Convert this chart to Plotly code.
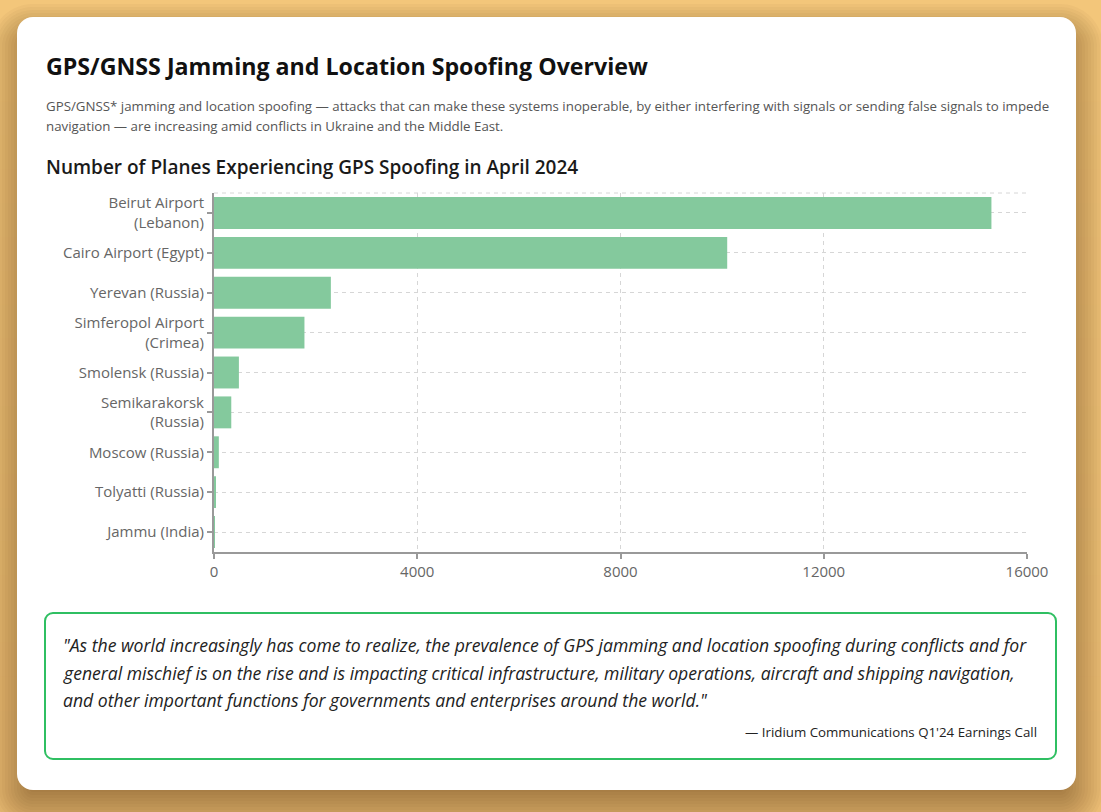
import plotly.graph_objects as go

# ---------------- data ----------------
categories = [
    "Beirut Airport<br>(Lebanon)",
    "Cairo Airport (Egypt)",
    "Yerevan (Russia)",
    "Simferopol Airport<br>(Crimea)",
    "Smolensk (Russia)",
    "Semikarakorsk<br>(Russia)",
    "Moscow (Russia)",
    "Tolyatti (Russia)",
    "Jammu (India)",
]
planes = [15300, 10100, 2300, 1780, 490, 340, 95, 35, 15]
x_ticks = [0, 4000, 8000, 12000, 16000]

title = "GPS/GNSS Jamming and Location Spoofing Overview"
subtitle_lines = [
    "GPS/GNSS* jamming and location spoofing \u2014 attacks that can make these systems inoperable, by either interfering with signals or sending false signals to impede",
    "navigation \u2014 are increasing amid conflicts in Ukraine and the Middle East.",
]
chart_title = "Number of Planes Experiencing GPS Spoofing in April 2024"
quote_lines = [
    "\"As the world increasingly has come to realize, the prevalence of GPS jamming and location spoofing during conflicts and for",
    "general mischief is on the rise and is impacting critical infrastructure, military operations, aircraft and shipping navigation,",
    "and other important functions for governments and enterprises around the world.\"",
]
attribution = "\u2014 Iridium Communications Q1'24 Earnings Call"

# ---------------- layout geometry (pixels) ----------------
FW, FH = 1101, 812
L, R, T, B = 214, 1027, 193, 552
PW, PH = R - L, B - T
FONT = "Segoe UI, Open Sans, Noto Sans, sans-serif"


def px(x):
    return (x - L) / PW


def py(y):
    return (B - y) / PH


def rounded_path(x0, y0, x1, y1, r):
    k = 0.5523 * r
    pts = [
        f"M{px(x0 + r)},{py(y0)}",
        f"L{px(x1 - r)},{py(y0)}",
        f"C{px(x1 - r + k)},{py(y0)} {px(x1)},{py(y0 + r - k)} {px(x1)},{py(y0 + r)}",
        f"L{px(x1)},{py(y1 - r)}",
        f"C{px(x1)},{py(y1 - r + k)} {px(x1 - r + k)},{py(y1)} {px(x1 - r)},{py(y1)}",
        f"L{px(x0 + r)},{py(y1)}",
        f"C{px(x0 + r - k)},{py(y1)} {px(x0)},{py(y1 - r + k)} {px(x0)},{py(y1 - r)}",
        f"L{px(x0)},{py(y0 + r)}",
        f"C{px(x0)},{py(y0 + r - k)} {px(x0 + r - k)},{py(y0)} {px(x0 + r)},{py(y0)}",
        "Z",
    ]
    return " ".join(pts)


shapes = []
# background gradient bands (top light -> bottom slightly darker)
nb = 24
for i in range(nb):
    t = i / (nb - 1)
    r_ = int(243 - 8 * t)
    g_ = int(198 - 10 * t)
    b_ = int(122 - 6 * t)
    shapes.append(dict(type="rect", xref="paper", yref="paper",
                       x0=px(0), x1=px(FW), y0=py(FH * i / nb), y1=py(FH * (i + 1) / nb + 1),
                       fillcolor=f"rgb({r_},{g_},{b_})", line=dict(width=0), layer="below"))

# card shadow (layered translucent rounded rects)
cx0, cy0, cx1, cy1 = 17, 17, 1076, 790
for s in range(27, -28, -3):
    shapes.append(dict(type="path", xref="paper", yref="paper",
                       path=rounded_path(cx0 - s, cy0 - s + 14, cx1 + s, cy1 + s + 14, max(16 + s, 4)),
                       fillcolor="rgba(70,45,10,0.03)", line=dict(width=0), layer="below"))
# card
shapes.append(dict(type="path", xref="paper", yref="paper",
                   path=rounded_path(cx0, cy0, cx1, cy1, 16),
                   fillcolor="white", line=dict(width=0), layer="below"))
# quote box
shapes.append(dict(type="path", xref="paper", yref="paper",
                   path=rounded_path(45, 613, 1056, 759, 8),
                   fillcolor="white", line=dict(width=2, color="#2fbf62"), layer="below"))
# top dashed border of the plot area
shapes.append(dict(type="line", xref="paper", yref="paper", x0=0, x1=1, y0=1, y1=1,
                   line=dict(width=1, color="#d6d6d6", dash="4px,4px"), layer="below"))

annotations = []
annotations.append(dict(text=f"<b>{title}</b>", x=px(44), y=py(66), xref="paper", yref="paper",
                        xanchor="left", yanchor="middle", showarrow=False,
                        font=dict(family=FONT, size=23.2, color="#111111")))
for i, line in enumerate(subtitle_lines):
    annotations.append(dict(text=line, x=px(44), y=py(106 + 20 * i), xref="paper", yref="paper",
                            xanchor="left", yanchor="middle", showarrow=False,
                            font=dict(family=FONT, size=13.3, color="#555555")))
annotations.append(dict(text=chart_title, x=px(44), y=py(167), xref="paper", yref="paper",
                        xanchor="left", yanchor="middle", showarrow=False,
                        font=dict(family=FONT, size=19, color="#1a1a1a", weight=600)))
for i, line in enumerate(quote_lines):
    annotations.append(dict(text=line, x=px(61), y=py(645 + 27.5 * i), xref="paper", yref="paper",
                            xanchor="left", yanchor="middle", showarrow=False,
                            font=dict(family=FONT, size=17.6, color="#222222", style="italic")))
annotations.append(dict(text=attribution, x=px(1039), y=py(732), xref="paper", yref="paper",
                        xanchor="right", yanchor="middle", showarrow=False,
                        font=dict(family=FONT, size=13.3, color="#222222")))

fig = go.Figure(go.Bar(
    y=categories, x=planes, orientation="h",
    marker=dict(color="#84c99d", line=dict(width=0)),
    hoverinfo="x+y",
))

fig.update_layout(
    width=FW, height=FH,
    margin=dict(l=L, r=FW - R, t=T, b=FH - B, pad=0),
    paper_bgcolor="#f1c378",
    plot_bgcolor="rgba(0,0,0,0)",
    bargap=0.2,
    showlegend=False,
    shapes=shapes,
    annotations=annotations,
    font=dict(family=FONT, size=15, color="#666666"),
)
fig.update_xaxes(
    range=[0, 16000], tickvals=x_ticks, ticktext=[str(v) for v in x_ticks],
    showgrid=True, gridcolor="#d6d6d6", gridwidth=1, griddash="4px,4px",
    showline=True, linecolor="#999999", linewidth=2,
    ticks="outside", ticklen=5, tickcolor="#999999", tickwidth=1.5,
    zeroline=False, tickfont=dict(family=FONT, size=15, color="#666666"),
    fixedrange=True,
)
fig.update_yaxes(
    autorange="reversed",
    showgrid=True, gridcolor="#d6d6d6", gridwidth=1, griddash="4px,4px",
    showline=True, linecolor="#999999", linewidth=2,
    ticks="outside", ticklen=5, tickcolor="#999999", tickwidth=1.5,
    tickfont=dict(family=FONT, size=15, color="#666666"),
    fixedrange=True,
)

fig.write_html(
    "out.html",
    config={"displayModeBar": False},
    post_script="document.body.style.margin='0px';document.body.style.background='#f1c378';",
)
